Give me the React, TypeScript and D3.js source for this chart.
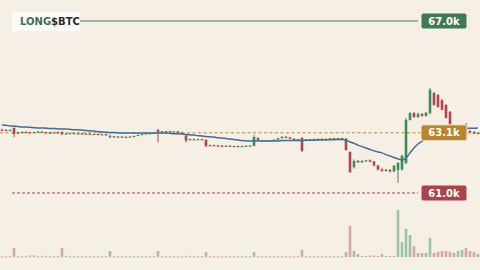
import React from "react";
import * as d3 from "d3";

const open = [
  63.21, 63.20, 63.19, 63.27, 63.07, 63.12, 63.13, 63.12, 63.10, 63.13,
  63.14, 63.12, 63.11, 63.10, 63.12, 63.12, 63.05, 63.08, 63.09, 63.07,
  63.08, 63.06, 63.07, 63.05, 63.06, 63.04, 63.05, 62.94, 62.98, 62.96,
  62.97, 62.95, 62.96, 62.97, 62.99, 63.03, 63.06, 63.08, 63.09, 63.20,
  63.12, 63.15, 63.16, 63.13, 63.15, 63.11, 63.00, 62.86, 62.88, 62.87,
  62.88, 62.85, 62.66, 62.67, 62.66, 62.65, 62.64, 62.65, 62.63, 62.64,
  62.63, 62.64, 62.65, 62.64, 62.92, 62.83, 62.82, 62.83, 62.84, 62.86,
  62.91, 62.96, 62.94, 62.89, 62.87, 62.92, 62.86, 62.87, 62.88, 62.87,
  62.89, 62.88, 62.89, 62.91, 62.90, 62.91, 62.89, 62.43, 61.90, 62.12,
  62.07, 62.12, 62.14, 62.10, 61.96, 61.82, 61.77, 61.81, 61.75, 61.80,
  61.82, 62.05, 63.55, 63.79, 63.65, 63.76, 63.69, 63.79, 64.49, 64.42,
  64.24, 64.07, 63.83, 63.30, 63.18, 63.22, 63.35, 63.16, 63.12, 63.08,
];
const high = [
  63.24, 63.22, 63.22, 63.29, 63.14, 63.15, 63.15, 63.14, 63.14, 63.16,
  63.16, 63.14, 63.13, 63.13, 63.14, 63.15, 63.09, 63.10, 63.10, 63.09,
  63.09, 63.08, 63.08, 63.07, 63.07, 63.06, 63.06, 63.04, 62.99, 62.98,
  62.98, 62.97, 62.98, 63.00, 63.04, 63.07, 63.09, 63.10, 63.11, 63.23,
  63.16, 63.17, 63.17, 63.16, 63.16, 63.12, 63.05, 62.89, 62.90, 62.89,
  62.89, 62.88, 62.69, 62.69, 62.68, 62.67, 62.66, 62.66, 62.65, 62.66,
  62.65, 62.66, 62.67, 63.02, 62.94, 62.85, 62.84, 62.85, 62.87, 62.92,
  62.98, 62.99, 62.96, 62.91, 62.89, 62.95, 62.88, 62.89, 62.90, 62.90,
  62.91, 62.90, 62.92, 62.93, 62.92, 62.93, 62.92, 62.45, 62.17, 62.15,
  62.14, 62.16, 62.17, 62.12, 61.98, 61.88, 61.84, 61.83, 61.98, 62.08,
  62.34, 63.62, 63.83, 63.83, 63.80, 63.79, 63.83, 64.66, 64.53, 64.45,
  64.28, 64.10, 63.86, 63.33, 63.25, 63.30, 63.44, 63.20, 63.16, 63.12,
];
const low = [
  63.18, 63.17, 63.17, 62.95, 63.05, 63.10, 63.11, 63.09, 63.09, 63.11,
  63.11, 63.10, 63.08, 63.09, 63.09, 63.02, 63.04, 63.06, 63.06, 63.05,
  63.05, 63.04, 63.04, 63.03, 63.02, 63.02, 63.01, 62.92, 62.95, 62.94,
  62.94, 62.93, 62.94, 62.96, 62.98, 63.02, 63.05, 63.06, 63.07, 62.76,
  63.11, 63.13, 63.12, 63.12, 63.10, 63.04, 62.76, 62.84, 62.86, 62.85,
  62.85, 62.60, 62.64, 62.65, 62.63, 62.62, 62.62, 62.62, 62.61, 62.62,
  62.61, 62.62, 62.63, 62.63, 62.83, 62.81, 62.80, 62.81, 62.83, 62.85,
  62.90, 62.92, 62.88, 62.86, 62.85, 62.43, 62.84, 62.85, 62.86, 62.86,
  62.87, 62.86, 62.88, 62.89, 62.88, 62.89, 62.48, 61.70, 61.85, 62.05,
  62.05, 62.10, 62.07, 61.93, 61.78, 61.74, 61.74, 61.72, 61.73, 61.35,
  61.78, 62.01, 63.52, 63.62, 63.62, 63.66, 63.66, 63.75, 64.05, 63.98,
  63.88, 63.60, 63.28, 63.15, 63.10, 63.18, 63.09, 63.08, 63.05, 63.04,
];
const close = [
  63.20, 63.19, 63.20, 63.06, 63.12, 63.13, 63.12, 63.10, 63.13, 63.14,
  63.12, 63.11, 63.10, 63.12, 63.10, 63.05, 63.08, 63.09, 63.07, 63.08,
  63.06, 63.07, 63.05, 63.06, 63.04, 63.05, 63.03, 62.98, 62.96, 62.97,
  62.95, 62.96, 62.97, 62.99, 63.03, 63.06, 63.08, 63.09, 63.10, 63.12,
  63.15, 63.16, 63.13, 63.15, 63.11, 63.06, 62.83, 62.88, 62.87, 62.88,
  62.86, 62.64, 62.67, 62.66, 62.65, 62.64, 62.65, 62.63, 62.64, 62.63,
  62.64, 62.65, 62.66, 62.95, 62.84, 62.82, 62.83, 62.84, 62.86, 62.91,
  62.96, 62.94, 62.89, 62.87, 62.88, 62.47, 62.87, 62.88, 62.87, 62.89,
  62.88, 62.89, 62.91, 62.90, 62.91, 62.92, 62.50, 61.73, 62.12, 62.07,
  62.12, 62.14, 62.09, 61.96, 61.82, 61.77, 61.81, 61.75, 61.95, 62.05,
  62.30, 63.55, 63.79, 63.65, 63.76, 63.69, 63.80, 64.60, 64.07, 64.00,
  63.90, 63.62, 63.30, 63.18, 63.22, 63.27, 63.16, 63.12, 63.08, 63.10,
];
const volume = [
  0.6, 0.6, 0.6, 9, 0.6, 0.6, 0.6, 1.5, 1.5, 0.6,
  0.6, 1.2, 0.6, 0.6, 0.6, 9, 1.2, 0.6, 0.6, 0.6,
  0.6, 0.6, 0.6, 0.6, 0.6, 0.6, 0.6, 6, 0.6, 0.6,
  0.6, 0.6, 0.6, 0.6, 0.6, 0.6, 0.6, 0.6, 0.6, 6,
  0.6, 0.6, 0.6, 0.6, 0.6, 0.6, 1.2, 0.6, 0.6, 0.6,
  0.6, 5, 0.6, 0.6, 0.6, 0.6, 0.6, 0.6, 0.6, 0.6,
  0.6, 0.6, 0.6, 5, 0.6, 0.6, 0.6, 0.6, 0.6, 0.6,
  0.6, 0.6, 0.6, 0.6, 0.6, 7, 0.6, 0.6, 0.6, 0.6,
  0.6, 0.6, 0.6, 0.6, 0.6, 0.6, 5, 31, 6, 3,
  1, 1, 1.5, 1.5, 1, 3, 1, 1, 1, 47,
  15, 28, 22, 11, 4, 4, 4, 19, 4, 5,
  6, 6, 5, 4, 6, 7, 9, 6, 5, 3,
];
const ma = [
  63.37, 63.36, 63.34, 63.33, 63.32, 63.30, 63.30, 63.29, 63.28, 63.27,
  63.27, 63.26, 63.25, 63.25, 63.24, 63.23, 63.23, 63.22, 63.21, 63.21,
  63.20, 63.18, 63.17, 63.16, 63.14, 63.13, 63.12, 63.11, 63.11, 63.10,
  63.09, 63.09, 63.09, 63.09, 63.09, 63.09, 63.09, 63.09, 63.09, 63.09,
  63.09, 63.09, 63.08, 63.07, 63.07, 63.06, 63.04, 63.03, 63.02, 63.00,
  62.99, 62.97, 62.96, 62.95, 62.93, 62.92, 62.90, 62.88, 62.87, 62.85,
  62.83, 62.82, 62.81, 62.81, 62.81, 62.81, 62.81, 62.81, 62.81, 62.81,
  62.83, 62.83, 62.83, 62.83, 62.83, 62.83, 62.84, 62.84, 62.84, 62.85,
  62.85, 62.85, 62.86, 62.86, 62.87, 62.87, 62.85, 62.78, 62.73, 62.67,
  62.62, 62.57, 62.52, 62.47, 62.43, 62.40, 62.34, 62.29, 62.24, 62.19,
  62.15, 62.22, 62.40, 62.57, 62.71, 62.81, 62.88, 62.95, 63.01, 63.06,
  63.09, 63.13, 63.16, 63.20, 63.22, 63.23, 63.25, 63.26, 63.26, 63.27,
];

const targetPrice = 67.0;
const currentPrice = 63.1;
const stopPrice = 61.0;
const targetLabel = "67.0k";
const currentLabel = "63.1k";
const stopLabel = "61.0k";
const logoA = "LONG";
const logoB = "$BTC";

const W = 480;
const H = 270;
const UP = "#3f8a5a";
const DOWN = "#b2464b";
const UP_V = "#9cc2a6";
const DOWN_V = "#d5a7a6";
const FONT = "DejaVu Sans, Verdana, sans-serif";

export default function App() {
  const n = close.length;
  const x = d3.scaleLinear().domain([0, n - 1]).range([2, 478]);
  const y = d3.scaleLinear().domain([61, 67]).range([193, 21]);
  const yv = d3.scaleLinear().domain([0, 48]).range([257, 209]);
  const bw = 2.6;

  const maLine = d3
    .line<number>()
    .x((_, i) => x(i))
    .y((d) => y(d))
    .curve(d3.curveMonotoneX)(ma) as string;

  const labelX = 421;
  const labelW = 46;
  const labelH = 16;

  const Label = ({ v, text, fill }: { v: number; text: string; fill: string }) => (
    <g>
      <rect x={labelX} y={y(v) - labelH / 2} width={labelW} height={labelH} rx={2.5} fill={fill} stroke="#f5efe6" strokeWidth={1} />
      <text x={labelX + labelW / 2} y={y(v) + 3.6} textAnchor="middle" fontFamily={FONT} fontWeight="bold" fontSize={10} fill="#ffffff">
        {text}
      </text>
    </g>
  );

  return (
    <svg width={W} height={H} style={{ position: "fixed", left: 0, top: 0 }} xmlns="http://www.w3.org/2000/svg">
      <rect width={W} height={H} fill="#f5efe6" />
      <g>
        {volume.map((v, i) => {
          const up = close[i] >= open[i];
          const top = yv(v);
          return (
            <rect key={i} x={x(i) - bw / 2} y={top} width={bw} height={Math.max(1, yv(0) - top)} fill={up ? UP_V : DOWN_V} />
          );
        })}
      </g>
      <line x1={0} x2={W} y1={y(currentPrice)} y2={y(currentPrice)} stroke="#b98a35" strokeWidth={1} strokeDasharray="3,2.5" />
      <line x1={12} x2={418} y1={y(stopPrice)} y2={y(stopPrice)} stroke="#a8444a" strokeWidth={1} strokeDasharray="3,2" />
      <line x1={80} x2={418} y1={y(targetPrice)} y2={y(targetPrice)} stroke="#4b7d5a" strokeWidth={1.2} />
      <g>
        {close.map((c, i) => {
          const o = open[i];
          const up = c >= o;
          const col = up ? UP : DOWN;
          const yt = y(Math.max(o, c));
          const yb = y(Math.min(o, c));
          return (
            <g key={i}>
              <line x1={x(i)} x2={x(i)} y1={y(high[i])} y2={y(low[i])} stroke={col} strokeWidth={1} />
              <rect x={x(i) - bw / 2} y={yt} width={bw} height={Math.max(1.2, yb - yt)} fill={col} />
            </g>
          );
        })}
      </g>
      <path d={maLine} fill="none" stroke="#3d6e96" strokeWidth={1.5} />
      <rect x={12} y={12} width={68} height={19} fill="#fdfbf7" />
      <text x={20} y={25} fontFamily={FONT} fontWeight="bold" fontSize={10}>
        <tspan fill="#3b7050">{logoA}</tspan>
        <tspan fill="#2a2a2a">{logoB}</tspan>
      </text>
      <Label v={targetPrice} text={targetLabel} fill="#3f7b52" />
      <Label v={currentPrice} text={currentLabel} fill="#b8862f" />
      <Label v={stopPrice} text={stopLabel} fill="#a8444a" />
    </svg>
  );
}
